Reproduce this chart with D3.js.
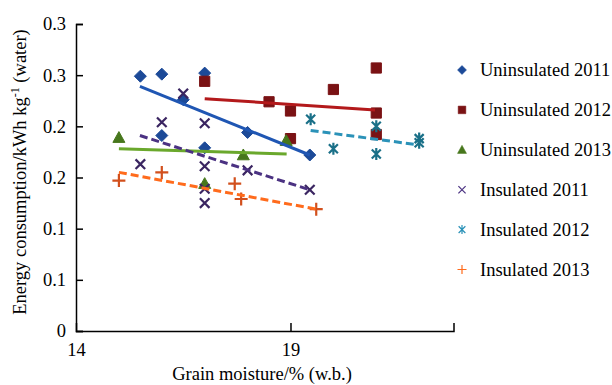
<!DOCTYPE html>
<html lang="en">
<head>
<meta charset="utf-8">
<title>Energy consumption vs grain moisture</title>
<script src="https://cdnjs.cloudflare.com/ajax/libs/d3/7.8.5/d3.min.js"></script>
<style>
  body { margin: 0; background: #fff; }
  svg { font-family: "Liberation Serif", "Times New Roman", serif; }
</style>
</head>
<body>
<script>
// tick labels as printed in the figure (values rounded to one decimal)
const yTickVals = [0, 0.05, 0.1, 0.15, 0.2, 0.25, 0.3];
const yTickText = ["0", "0.1", "0.1", "0.2", "0.2", "0.3", "0.3"];
const xTickVals = [14, 19];

const seriesNames = ["Uninsulated 2011", "Uninsulated 2012", "Uninsulated 2013",
                     "Insulated 2011", "Insulated 2012", "Insulated 2013"];

// points [moisture, energy]
const unins2011 = [[15.5,0.249],[16,0.251],[17,0.252],[16.5,0.226],[16,0.191],[17,0.179],[18,0.194],[19.45,0.172]];
const unins2012 = [[17,0.244],[18.5,0.224],[19,0.215],[20,0.236],[21,0.257],[21,0.213],[19,0.188],[21,0.192]];
const unins2013 = [[15,0.189],[17.9,0.172],[18.9,0.186],[17,0.144]];
const ins2011 = [[16.5,0.232],[16,0.204],[17,0.203],[15.5,0.163],[17,0.161],[17,0.139],[17,0.125],[18,0.157],[19.45,0.138]];
const ins2012 = [[19.47,0.207],[20,0.178],[21,0.200],[21,0.173],[22,0.188],[22,0.184]];
const ins2013 = [[15,0.147],[16,0.155],[17.7,0.144],[17.85,0.129],[19.6,0.119]];

// fitted trend lines [x0, y0, x1, y1]
const trendU2011 = [15.49, 0.239, 19.45, 0.172];
const trendU2012 = [17, 0.227, 20.97, 0.216];
const trendU2013 = [15, 0.178, 18.91, 0.173];
const trendI2011 = [15.49, 0.191, 19.45, 0.138];
const trendI2012 = [19.47, 0.196, 21.96, 0.182];
const trendI2013 = [15, 0.155, 19.61, 0.119];

const series = [
  {name: seriesNames[0], pts: unins2011, trend: trendU2011, shape: "diamond",  col: "#1c4a98", line: "#1f56b3", dash: null},
  {name: seriesNames[1], pts: unins2012, trend: trendU2012, shape: "square",   col: "#7a1214", line: "#b3191b", dash: null},
  {name: seriesNames[2], pts: unins2013, trend: trendU2013, shape: "triangle", col: "#47771c", line: "#6aa82c", dash: null},
  {name: seriesNames[3], pts: ins2011,   trend: trendI2011, shape: "x",        col: "#3a2561", line: "#4b3282", dash: "8,4"},
  {name: seriesNames[4], pts: ins2012,   trend: trendI2012, shape: "star",     col: "#1a7088", line: "#2b92b8", dash: "8,4"},
  {name: seriesNames[5], pts: ins2013,   trend: trendI2013, shape: "plus",     col: "#d2501d", line: "#ff6b1c", dash: "8,4"}
];

const w = 612, h = 385;
const fs = "18.5px";
const svg = d3.select("body").append("svg").attr("width", w).attr("height", h);

const x = d3.scaleLinear().domain([14, 22.8]).range([76, 453.5]);
const y = d3.scaleLinear().domain([0, 0.3]).range([331, 24]);

// axes (ticks point inward)
const xAxis = svg.append("g").attr("transform", "translate(0," + y(0) + ")")
  .call(d3.axisBottom(x).tickValues(xTickVals).tickSize(-8).tickPadding(12).tickFormat(d3.format("d")));
const yAxis = svg.append("g").attr("transform", "translate(" + x(14) + ",0)")
  .call(d3.axisLeft(y).tickValues(yTickVals).tickSize(-7).tickPadding(10)
    .tickFormat((d, i) => yTickText[i]));

[xAxis, yAxis].forEach(g => {
  g.select(".domain").attr("stroke", "#000").attr("stroke-width", 1.5);
  g.selectAll(".tick line").attr("stroke", "#000").attr("stroke-width", 1.5);
  g.selectAll(".tick text").attr("fill", "#000").style("font-size", fs)
    .style("font-family", "'Liberation Serif', 'Times New Roman', serif");
});
xAxis.selectAll(".tick").filter(d => d === 14).select("line").remove();

// axis titles
svg.append("text").attr("x", 262).attr("y", 380).attr("text-anchor", "middle")
  .style("font-size", fs).text("Grain moisture/% (w.b.)");

const yt = svg.append("text")
  .attr("transform", "translate(26,172) rotate(-90)")
  .attr("text-anchor", "middle").style("font-size", fs);
yt.append("tspan").text("Energy consumption/kWh kg");
yt.append("tspan").attr("dy", -7).style("font-size", "12px").text("-1");
yt.append("tspan").attr("dy", 7).text(" (water)");

// marker shapes centred on 0,0
function markerPath(shape, s) {
  const p = d3.path();
  if (shape === "diamond") {
    p.moveTo(0, -s); p.lineTo(s, 0); p.lineTo(0, s); p.lineTo(-s, 0); p.closePath();
  } else if (shape === "square") {
    const a = s * 0.85;
    p.rect(-a, -a, 2 * a, 2 * a);
  } else if (shape === "triangle") {
    p.moveTo(0, -s); p.lineTo(s, s * 0.8); p.lineTo(-s, s * 0.8); p.closePath();
  } else if (shape === "x") {
    const a = s * 0.8;
    p.moveTo(-a, -a); p.lineTo(a, a); p.moveTo(a, -a); p.lineTo(-a, a);
  } else if (shape === "star") {
    const a = s * 0.75;
    p.moveTo(-a, -a); p.lineTo(a, a); p.moveTo(a, -a); p.lineTo(-a, a);
    p.moveTo(0, -s); p.lineTo(0, s);
  } else if (shape === "plus") {
    p.moveTo(-s, 0); p.lineTo(s, 0); p.moveTo(0, -s); p.lineTo(0, s);
  }
  return p.toString();
}
const filled = s => s === "diamond" || s === "square" || s === "triangle";

// points
series.forEach(sr => {
  svg.append("g").selectAll("path").data(sr.pts).enter().append("path")
    .attr("transform", d => "translate(" + x(d[0]) + "," + y(d[1]) + ")")
    .attr("d", markerPath(sr.shape, sr.shape === "plus" ? 6.5 : 6))
    .attr("fill", filled(sr.shape) ? sr.col : "none")
    .attr("stroke", sr.col)
    .attr("stroke-width", filled(sr.shape) ? 1 : 2.2);
});

// trend lines
series.forEach(sr => {
  const t = sr.trend;
  svg.append("line")
    .attr("x1", x(t[0])).attr("y1", y(t[1]))
    .attr("x2", x(t[2])).attr("y2", y(t[3]))
    .attr("stroke", sr.line).attr("stroke-width", 3)
    .attr("stroke-dasharray", sr.dash);
});

// legend
const leg = svg.append("g").selectAll("g").data(series).enter().append("g")
  .attr("transform", (d, i) => "translate(462," + (70 + i * 39.9) + ")");
leg.append("path")
  .attr("d", d => markerPath(d.shape, 4.5))
  .attr("fill", d => filled(d.shape) ? d.col : "none")
  .attr("stroke", d => filled(d.shape) ? d.col : d.line)
  .attr("stroke-width", d => filled(d.shape) ? 0.5 : 1.2);
leg.append("text").attr("x", 18).attr("y", 6)
  .style("font-size", fs).text(d => d.name);
</script>
</body>
</html>
